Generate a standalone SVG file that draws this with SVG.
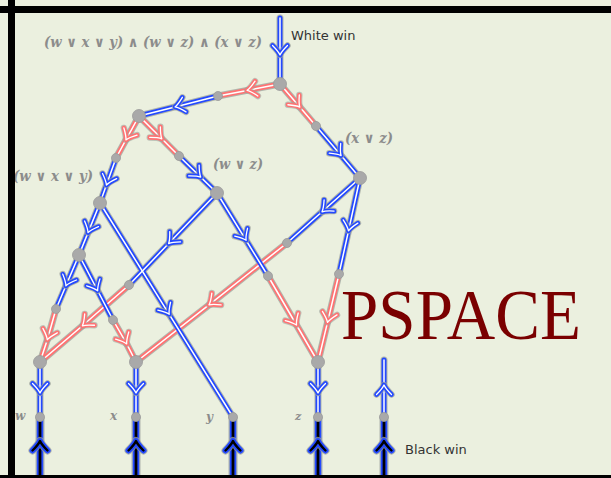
<svg xmlns="http://www.w3.org/2000/svg" xmlns:xlink="http://www.w3.org/1999/xlink" width="611" height="478" viewBox="0 0 611 478">
<style>
.halo{fill:none;stroke:#9da39c;stroke-width:7;stroke-linecap:round;stroke-linejoin:round;opacity:.75}
.haloK{fill:none;stroke:#9da39c;stroke-width:9;stroke-linecap:butt;opacity:.75}
.blue{fill:none;stroke:#2349ff;stroke-width:5;stroke-linecap:round;stroke-linejoin:round}
.red{fill:none;stroke:#ff7272;stroke-width:5;stroke-linecap:round;stroke-linejoin:round}
.wB{fill:none;stroke:#fff;stroke-width:1.5;stroke-linecap:round;marker-mid:url(#cb)}
.wR{fill:none;stroke:#fff;stroke-width:1.5;stroke-linecap:round;marker-mid:url(#cr)}
.kB{fill:none;stroke:#2349ff;stroke-width:6.5;stroke-linecap:butt}
.kK{fill:none;stroke:#000;stroke-width:2.8;stroke-linecap:butt;marker-mid:url(#ck)}
.nb{fill:#a9a9a9;stroke:#999;stroke-width:.8}
.m{font-family:"DejaVu Serif",serif;fill:#8c8c8c;font-weight:bold;font-style:italic}
.t{font-family:"DejaVu Sans",sans-serif;font-size:13px;fill:#333}
</style>
<defs>
<path id="chev" d="M-9.5,-7.5 Q-3.5,-1.5 0,0 Q-3.5,1.5 -9.5,7.5"/>
<marker id="cb" markerUnits="userSpaceOnUse" orient="auto" overflow="visible" markerWidth="1" markerHeight="1" refX="0" refY="0">
<use xlink:href="#chev" fill="none" stroke="#9da39c" stroke-width="6.5" stroke-linecap="round" stroke-linejoin="round" opacity=".75"/>
<use xlink:href="#chev" fill="none" stroke="#2349ff" stroke-width="4.6" stroke-linecap="round" stroke-linejoin="round"/>
<use xlink:href="#chev" fill="none" stroke="#fff" stroke-width="1.3" stroke-linecap="round" stroke-linejoin="round"/>
</marker>
<marker id="cr" markerUnits="userSpaceOnUse" orient="auto" overflow="visible" markerWidth="1" markerHeight="1" refX="0" refY="0">
<use xlink:href="#chev" fill="none" stroke="#9da39c" stroke-width="6.5" stroke-linecap="round" stroke-linejoin="round" opacity=".6"/>
<use xlink:href="#chev" fill="none" stroke="#ff7272" stroke-width="4.6" stroke-linecap="round" stroke-linejoin="round"/>
<use xlink:href="#chev" fill="none" stroke="#fff" stroke-width="1.3" stroke-linecap="round" stroke-linejoin="round"/>
</marker>
<marker id="ck" markerUnits="userSpaceOnUse" orient="auto" overflow="visible" markerWidth="1" markerHeight="1" refX="0" refY="0">
<use xlink:href="#chev" fill="none" stroke="#9da39c" stroke-width="8" stroke-linecap="round" stroke-linejoin="round" opacity=".75"/>
<use xlink:href="#chev" fill="none" stroke="#2349ff" stroke-width="6" stroke-linecap="round" stroke-linejoin="round"/>
<use xlink:href="#chev" fill="none" stroke="#000" stroke-width="2.4" stroke-linecap="round" stroke-linejoin="round"/>
</marker>
<path id="e1" d="M280,18 L280,55 L280,84"/>
<path id="e2" d="M280,84 L247.1,90.4 L218,96"/>
<path id="e3" d="M218,96 L175,106.9 L139,116"/>
<path id="e4" d="M280,84 L299.8,107.1 L316,126"/>
<path id="e5" d="M316,126 L341.1,155.6 L360,178"/>
<path id="e6" d="M139,116 L125.9,139.9 L116,158"/>
<path id="e7" d="M139,116 L161.8,138.8 L179,156"/>
<path id="e8" d="M116,158 L106.4,185 L100,203"/>
<path id="e9" d="M179,156 L200.7,177.1 L217,193"/>
<path id="e10" d="M100,203 L88,232.6 L79,255"/>
<path id="e11" d="M100,203 L169.2,314.3 L233,417"/>
<path id="e12" d="M79,255 L65.9,285.8 L56,309"/>
<path id="e13" d="M79,255 L97.7,290.75 L113,320"/>
<path id="e14" d="M56,309 L47.3,339.7 L40,362"/>
<path id="e15" d="M113,320 L126.7,343.9 L136,362"/>
<path id="e16" d="M217,193 L168.6,243.6 L129,285"/>
<path id="e17" d="M129,285 L82.4,325.8 L40,362"/>
<path id="e18" d="M217,193 L246.1,240.3 L268,276"/>
<path id="e19" d="M268,276 L296.5,325 L318,362"/>
<path id="e20" d="M360,178 L322,211.8 L287,243"/>
<path id="e21" d="M287,243 L209,304.9 L136,362"/>
<path id="e22" d="M360,178 L348.5,230.8 L339,274"/>
<path id="e23" d="M339,274 L327.5,322.4 L318,362"/>
<path id="e24" d="M40,362 L40,393 L40,417"/>
<path id="e25" d="M136,362 L136,393 L136,417"/>
<path id="e26" d="M318,362 L318,393 L318,417"/>
<path id="e27" d="M384,417 L384,385 L384,360"/>
<path id="k1" d="M40,480 L40,441 L40,417"/>
<path id="k2" d="M136,480 L136,441 L136,417"/>
<path id="k3" d="M233,480 L233,441 L233,417"/>
<path id="k4" d="M318,480 L318,441 L318,417"/>
<path id="k5" d="M384,480 L384,441 L384,417"/>
</defs>
<rect width="611" height="478" fill="#ebf0df"/>
<g id="connectors">
<g class="halo">
<use xlink:href="#e1"/><use xlink:href="#e2"/><use xlink:href="#e3"/><use xlink:href="#e4"/><use xlink:href="#e5"/><use xlink:href="#e6"/><use xlink:href="#e7"/><use xlink:href="#e8"/><use xlink:href="#e9"/><use xlink:href="#e10"/><use xlink:href="#e11"/><use xlink:href="#e12"/><use xlink:href="#e13"/><use xlink:href="#e14"/><use xlink:href="#e15"/><use xlink:href="#e16"/><use xlink:href="#e17"/><use xlink:href="#e18"/><use xlink:href="#e19"/><use xlink:href="#e20"/><use xlink:href="#e21"/><use xlink:href="#e22"/><use xlink:href="#e23"/><use xlink:href="#e24"/><use xlink:href="#e25"/><use xlink:href="#e26"/><use xlink:href="#e27"/>
</g>
<g class="haloK"><use xlink:href="#k1"/><use xlink:href="#k2"/><use xlink:href="#k3"/><use xlink:href="#k4"/><use xlink:href="#k5"/></g>
<g class="red">
<use xlink:href="#e2"/><use xlink:href="#e4"/><use xlink:href="#e6"/><use xlink:href="#e7"/><use xlink:href="#e14"/><use xlink:href="#e15"/><use xlink:href="#e17"/><use xlink:href="#e19"/><use xlink:href="#e21"/><use xlink:href="#e23"/>
</g>
<g class="wR">
<use xlink:href="#e2"/><use xlink:href="#e4"/><use xlink:href="#e6"/><use xlink:href="#e7"/><use xlink:href="#e14"/><use xlink:href="#e15"/><use xlink:href="#e17"/><use xlink:href="#e19"/><use xlink:href="#e21"/><use xlink:href="#e23"/>
</g>
<g class="blue">
<use xlink:href="#e1"/><use xlink:href="#e3"/><use xlink:href="#e5"/><use xlink:href="#e8"/><use xlink:href="#e9"/><use xlink:href="#e10"/><use xlink:href="#e11"/><use xlink:href="#e12"/><use xlink:href="#e13"/><use xlink:href="#e16"/><use xlink:href="#e18"/><use xlink:href="#e20"/><use xlink:href="#e22"/><use xlink:href="#e24"/><use xlink:href="#e25"/><use xlink:href="#e26"/><use xlink:href="#e27"/>
</g>
<g class="wB">
<use xlink:href="#e1"/><use xlink:href="#e3"/><use xlink:href="#e5"/><use xlink:href="#e8"/><use xlink:href="#e9"/><use xlink:href="#e10"/><use xlink:href="#e11"/><use xlink:href="#e12"/><use xlink:href="#e13"/><use xlink:href="#e16"/><use xlink:href="#e18"/><use xlink:href="#e20"/><use xlink:href="#e22"/><use xlink:href="#e24"/><use xlink:href="#e25"/><use xlink:href="#e26"/><use xlink:href="#e27"/>
</g>
<g class="kB"><use xlink:href="#k1"/><use xlink:href="#k2"/><use xlink:href="#k3"/><use xlink:href="#k4"/><use xlink:href="#k5"/></g>
<g class="kK"><use xlink:href="#k1"/><use xlink:href="#k2"/><use xlink:href="#k3"/><use xlink:href="#k4"/><use xlink:href="#k5"/></g>
</g>
<g id="n0"><circle class="nb" cx="280" cy="84" r="6.5"/></g>
<g id="n1"><circle class="nb" cx="218" cy="96" r="4.5"/></g>
<g id="n2"><circle class="nb" cx="139" cy="116" r="6.5"/></g>
<g id="n3"><circle class="nb" cx="316" cy="126" r="4.5"/></g>
<g id="n4"><circle class="nb" cx="360" cy="178" r="6.5"/></g>
<g id="n5"><circle class="nb" cx="116" cy="158" r="4.5"/></g>
<g id="n6"><circle class="nb" cx="179" cy="156" r="4.5"/></g>
<g id="n7"><circle class="nb" cx="217" cy="193" r="6.5"/></g>
<g id="n8"><circle class="nb" cx="100" cy="203" r="6.5"/></g>
<g id="n9"><circle class="nb" cx="79" cy="255" r="6.5"/></g>
<g id="n10"><circle class="nb" cx="287" cy="243" r="4.5"/></g>
<g id="n11"><circle class="nb" cx="129" cy="285" r="4.5"/></g>
<g id="n12"><circle class="nb" cx="268" cy="276" r="4.5"/></g>
<g id="n13"><circle class="nb" cx="339" cy="274" r="4.5"/></g>
<g id="n14"><circle class="nb" cx="56" cy="309" r="4.5"/></g>
<g id="n15"><circle class="nb" cx="113" cy="320" r="4.5"/></g>
<g id="n16"><circle class="nb" cx="40" cy="362" r="6.5"/></g>
<g id="n17"><circle class="nb" cx="136" cy="362" r="6.5"/></g>
<g id="n18"><circle class="nb" cx="318" cy="362" r="6.5"/></g>
<g id="n19"><circle class="nb" cx="40" cy="417" r="4.5"/></g>
<g id="n20"><circle class="nb" cx="136" cy="417" r="4.5"/></g>
<g id="n21"><circle class="nb" cx="233" cy="417" r="4.5"/></g>
<g id="n22"><circle class="nb" cx="318" cy="417" r="4.5"/></g>
<g id="n23"><circle class="nb" cx="384" cy="417" r="4.5"/></g>
<g id="labels">
<text class="m" x="44" y="47" font-size="14" textLength="218" lengthAdjust="spacingAndGlyphs">(w ∨ x ∨ y) ∧ (w ∨ z) ∧ (x ∨ z)</text>
<text class="m" x="345" y="143" font-size="14" textLength="48" lengthAdjust="spacingAndGlyphs">(x ∨ z)</text>
<text class="m" x="213" y="169" font-size="14" textLength="50" lengthAdjust="spacingAndGlyphs">(w ∨ z)</text>
<text class="m" x="13" y="181" font-size="14" textLength="80" lengthAdjust="spacingAndGlyphs">(w ∨ x ∨ y)</text>
<text class="m" x="15" y="420" font-size="12">w</text>
<text class="m" x="110" y="420" font-size="12">x</text>
<text class="m" x="206" y="421" font-size="12">y</text>
<text class="m" x="295" y="420" font-size="11">z</text>
<text class="t" x="291" y="40">White win</text>
<text class="t" x="405" y="454">Black win</text>
<text x="341" y="339" font-family="Liberation Serif,serif" font-size="72" fill="#7a0000" textLength="240" lengthAdjust="spacingAndGlyphs">PSPACE</text>
</g>
<g id="frame" fill="#000">
<rect x="0" y="6" width="611" height="7"/>
<rect x="8" y="0" width="7" height="478"/>
<rect x="0" y="475" width="611" height="3"/>
</g>
</svg>
